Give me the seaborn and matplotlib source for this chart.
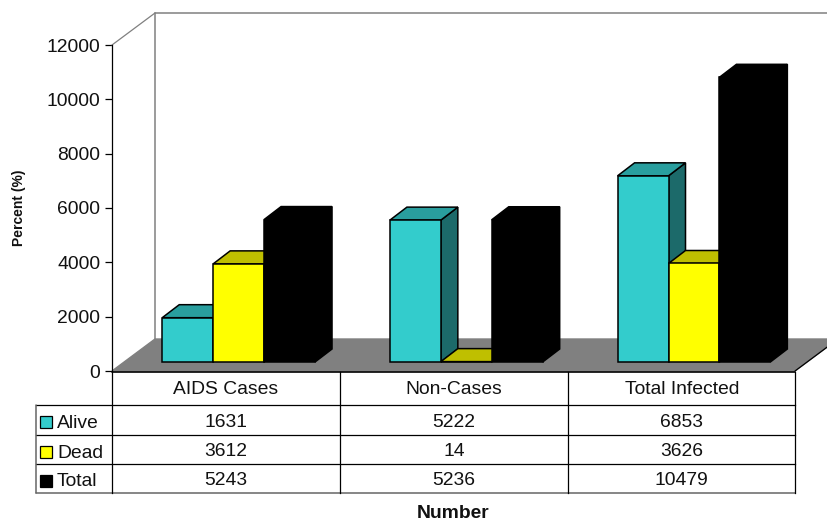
import matplotlib
matplotlib.use("Agg")
import matplotlib.pyplot as plt
from matplotlib.patches import Polygon, Rectangle
import pandas as pd
import seaborn as sns

# Infection counts by outcome
categories = ["AIDS Cases", "Non-Cases", "Total Infected"]
alive = [1631, 5222, 6853]
dead = [3612, 14, 3626]
total = [5243, 5236, 10479]
series_names = ["Alive", "Dead", "Total"]
y_ticks = [0, 2000, 4000, 6000, 8000, 10000, 12000]

# Front, top and side shades for each series
front_colors = ["#33CCCC", "#FFFF00", "#000000"]
top_colors = ["#299E9E", "#BFBF00", "#000000"]
side_colors = ["#1C6A6A", "#808000", "#000000"]

W, H = 828, 521
LEFT, RIGHT, BASE, TOP = 112, 795, 371, 45  # front plane of the plot box, px
WALL_DX, WALL_DY = 43, 32                   # depth of the plot box, px
BAR_SHIFT_X, BAR_SHIFT_Y = 12.8, 9          # bars stand inside the floor, px
BAR_DX, BAR_DY = 17, 13                     # depth of each bar, px
BAR_WIDTH = 153 / 228

sns.set_style("white")
plt.rcParams["font.family"] = ["Liberation Sans", "DejaVu Sans"]
FS = 13.9


def px_axes(fig, left, right, bottom, top):
    return fig.add_axes([left / W, 1 - bottom / H, (right - left) / W, (bottom - top) / H])


fig = plt.figure(figsize=(W / 100, H / 100), dpi=100, facecolor="white")

# Front plane: carries the value axis and the walls
ax = px_axes(fig, LEFT, RIGHT, BASE, TOP)
ax.set_xlim(-0.5, 2.5)
ax.set_ylim(0, 12000)
ax.patch.set_alpha(0)
ax.set_xticks([])
ax.set_yticks(y_ticks, [str(v) for v in y_ticks], fontsize=FS, color="#111111")
ax.tick_params(axis="y", left=True, length=5, width=0.9, pad=3.4, color="black")
sns.despine(ax=ax, top=True, right=True, bottom=True)
ax.spines["left"].set_color("black")
ax.spines["left"].set_linewidth(0.9)
ax.set_ylabel("Percent (%)", fontsize=10, fontweight="bold", color="#111111")
ax.yaxis.set_label_coords((26 - LEFT) / (RIGHT - LEFT), 0.5)

ux = 3 / (RIGHT - LEFT)        # x units per pixel
uy = 12000 / (BASE - TOP)      # y units per pixel
wx, wy = WALL_DX * ux, WALL_DY * uy
gray = "#808080"
ax.add_patch(Polygon([(-0.5, 0), (-0.5 + wx, wy), (2.5 + wx, wy), (2.5, 0)],
                     closed=True, fc=gray, ec=gray, lw=1, clip_on=False, zorder=1))
ax.plot([-0.5, -0.5 + wx], [12000, 12000 + wy], color=gray, lw=0.9, clip_on=False, zorder=1)
ax.plot([-0.5 + wx, -0.5 + wx], [wy, 12000 + wy], color=gray, lw=1.1, clip_on=False, zorder=1)
ax.plot([-0.5 + wx, 2.5 + wx], [12000 + wy, 12000 + wy], color=gray, lw=1.1, clip_on=False, zorder=1)
ax.plot([2.5, 2.5 + wx], [0, wy], color="black", lw=0.9, clip_on=False, zorder=1)

# Bars live on their own plane, nudged back into the floor
bar_ax = px_axes(fig, LEFT + BAR_SHIFT_X, RIGHT + BAR_SHIFT_X, BASE - BAR_SHIFT_Y, TOP - BAR_SHIFT_Y)
df = pd.DataFrame({
    "group": categories * 3,
    "count": alive + dead + total,
    "status": [s for s in series_names for _ in categories],
})
sns.barplot(data=df, x="group", y="count", hue="status", order=categories,
            hue_order=series_names, palette=front_colors, saturation=1, width=BAR_WIDTH,
            gap=0, edgecolor="black", linewidth=1.1, legend=False, ax=bar_ax)
bar_ax.set_xlim(-0.5, 2.5)
bar_ax.set_ylim(0, 12000)
bar_ax.axis("off")
bar_ax.patch.set_alpha(0)

dx, dy = BAR_DX * ux, BAR_DY * uy
bars = [p for p in bar_ax.patches if isinstance(p, Rectangle)]
for s in range(3):
    for c in range(3):
        bar = bars[s * 3 + c]
        z = 3 + s
        x0, x1 = bar.get_x(), bar.get_x() + bar.get_width()
        h = bar.get_height()
        bar.set_zorder(z + 0.2)
        bar.set_clip_on(False)
        bar_ax.add_patch(Polygon([(x1, 0), (x1 + dx, dy), (x1 + dx, h + dy), (x1, h)], closed=True,
                                 fc=side_colors[s], ec="black", lw=1.1, clip_on=False, zorder=z))
        bar_ax.add_patch(Polygon([(x0, h), (x0 + dx, h + dy), (x1 + dx, h + dy), (x1, h)], closed=True,
                                 fc=top_colors[s], ec="black", lw=1.1, clip_on=False, zorder=z + 0.1))

# Data table underneath, laid out in pixels on a full-figure overlay
tbl = fig.add_axes([0, 0, 1, 1])
tbl.set_xlim(0, W)
tbl.set_ylim(H, 0)
tbl.axis("off")
tbl.patch.set_alpha(0)

col_edges = [112, 340, 568, 795.5]
row_edges = [371.7, 404.5, 434.5, 464, 493]
legend_left = 36
line = dict(color="black", lw=0.9, solid_capstyle="projecting")
tbl.plot([LEFT, col_edges[-1]], [row_edges[0]] * 2, color="black", lw=1.2)
tbl.plot([legend_left, col_edges[-1]], [row_edges[1]] * 2, **line)
tbl.plot([legend_left, col_edges[-1]], [row_edges[2]] * 2, **line)
tbl.plot([legend_left, col_edges[-1]], [row_edges[3]] * 2, **line)
tbl.plot([legend_left, col_edges[-1]], [row_edges[4]] * 2, color="#666666", lw=1.1)
tbl.plot([legend_left] * 2, [row_edges[1], row_edges[4]], color="#666666", lw=1.1)
for xe in col_edges:
    tbl.plot([xe, xe], [row_edges[0], row_edges[4]], **line)

text_style = dict(fontsize=FS, color="#111111", ha="center", va="center")
for i, name in enumerate(categories):
    cx = (col_edges[i] + col_edges[i + 1]) / 2
    tbl.text(cx, 389.5, name, **text_style)
    for values, cy in zip((alive, dead, total), (422.5, 451.5, 480.5)):
        tbl.text(cx, cy, str(values[i]), **text_style)

for name, color, sy, cy in zip(series_names, front_colors, (416, 446, 474.5), (424, 453.5, 482)):
    tbl.add_patch(Rectangle((40, sy), 12, 12, fc=color, ec="black", lw=0.9))
    tbl.text(57, cy, name, fontsize=FS, color="#111111", ha="left", va="center")

tbl.text(453.5, 513.5, "Number", fontsize=FS, fontweight="bold", color="#111111", ha="center", va="center")

fig.savefig("out.png", dpi=100, facecolor="white")
